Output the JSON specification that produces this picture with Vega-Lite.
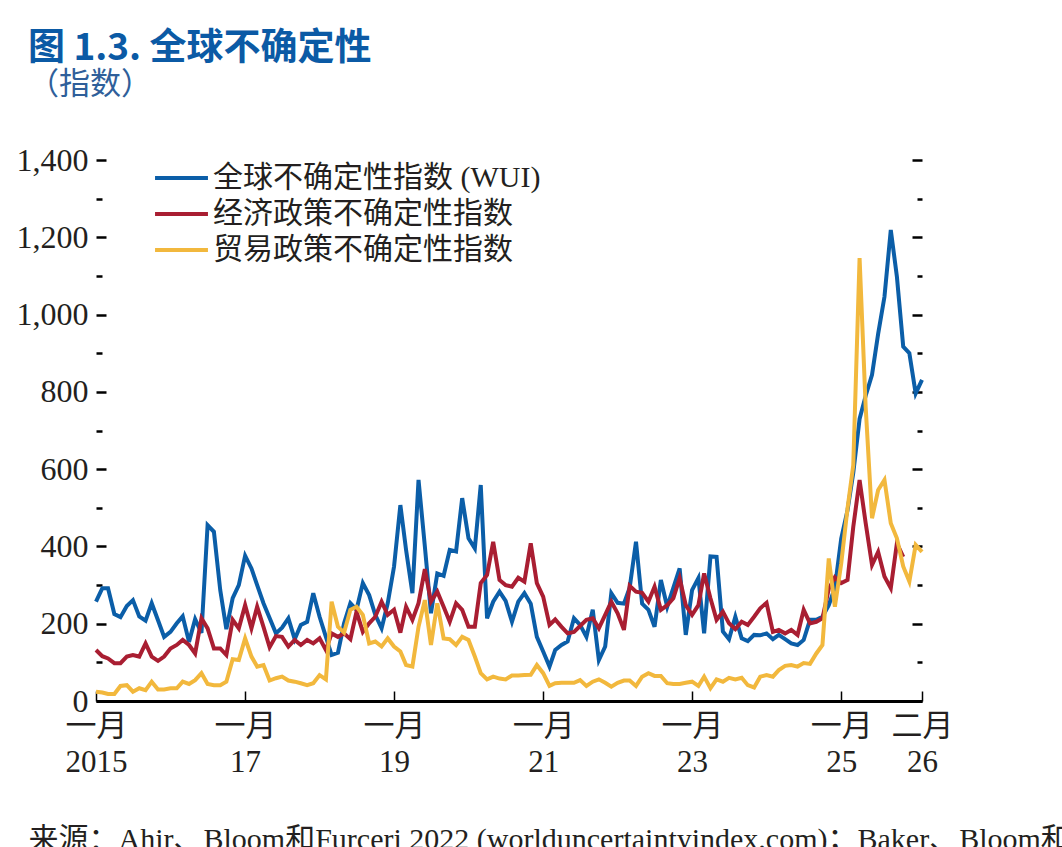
{
  "$schema": "https://vega.github.io/schema/vega-lite/v6.json",
  "width": 826,
  "height": 541,
  "autosize": {"type": "none"},
  "padding": {"left": 96, "top": 160, "right": 140, "bottom": 146},
  "background": "white",
  "title": {
    "text": "图 1.3. 全球不确定性",
    "subtitle": "（指数）",
    "anchor": "start",
    "frame": "group",
    "dx": -68,
    "font": "Noto Sans CJK SC",
    "fontSize": 37,
    "fontWeight": "bold",
    "color": "#0b5aa5",
    "subtitleFont": "Noto Sans CJK SC",
    "subtitleFontSize": 31,
    "subtitleFontWeight": "normal",
    "subtitleColor": "#2f5f9a",
    "subtitlePadding": 2,
    "offset": 43
  },
  "data": {
    "values": [
      {"date": "2015-01-01", "wui": 257, "epu": 132, "tpu": 24},
      {"date": "2015-02-01", "wui": 292, "epu": 116, "tpu": 22},
      {"date": "2015-03-01", "wui": 292, "epu": 110, "tpu": 18},
      {"date": "2015-04-01", "wui": 225, "epu": 98, "tpu": 18},
      {"date": "2015-05-01", "wui": 217, "epu": 98, "tpu": 39},
      {"date": "2015-06-01", "wui": 246, "epu": 115, "tpu": 41},
      {"date": "2015-07-01", "wui": 261, "epu": 119, "tpu": 24},
      {"date": "2015-08-01", "wui": 219, "epu": 115, "tpu": 33},
      {"date": "2015-09-01", "wui": 208, "epu": 149, "tpu": 28},
      {"date": "2015-10-01", "wui": 253, "epu": 115, "tpu": 50},
      {"date": "2015-11-01", "wui": 209, "epu": 104, "tpu": 30},
      {"date": "2015-12-01", "wui": 166, "epu": 115, "tpu": 30},
      {"date": "2016-01-01", "wui": 179, "epu": 136, "tpu": 33},
      {"date": "2016-02-01", "wui": 201, "epu": 145, "tpu": 33},
      {"date": "2016-03-01", "wui": 219, "epu": 158, "tpu": 50},
      {"date": "2016-04-01", "wui": 153, "epu": 145, "tpu": 44},
      {"date": "2016-05-01", "wui": 212, "epu": 123, "tpu": 54},
      {"date": "2016-06-01", "wui": 176, "epu": 214, "tpu": 72},
      {"date": "2016-07-01", "wui": 455, "epu": 188, "tpu": 44},
      {"date": "2016-08-01", "wui": 438, "epu": 136, "tpu": 41},
      {"date": "2016-09-01", "wui": 287, "epu": 136, "tpu": 41},
      {"date": "2016-10-01", "wui": 186, "epu": 119, "tpu": 50},
      {"date": "2016-11-01", "wui": 266, "epu": 210, "tpu": 108},
      {"date": "2016-12-01", "wui": 300, "epu": 188, "tpu": 106},
      {"date": "2017-01-01", "wui": 376, "epu": 248, "tpu": 162},
      {"date": "2017-02-01", "wui": 343, "epu": 188, "tpu": 115},
      {"date": "2017-03-01", "wui": 300, "epu": 244, "tpu": 89},
      {"date": "2017-04-01", "wui": 253, "epu": 192, "tpu": 93},
      {"date": "2017-05-01", "wui": 215, "epu": 139, "tpu": 53},
      {"date": "2017-06-01", "wui": 175, "epu": 168, "tpu": 59},
      {"date": "2017-07-01", "wui": 190, "epu": 166, "tpu": 63},
      {"date": "2017-08-01", "wui": 214, "epu": 141, "tpu": 53},
      {"date": "2017-09-01", "wui": 160, "epu": 158, "tpu": 50},
      {"date": "2017-10-01", "wui": 197, "epu": 145, "tpu": 46},
      {"date": "2017-11-01", "wui": 205, "epu": 158, "tpu": 41},
      {"date": "2017-12-01", "wui": 279, "epu": 149, "tpu": 46},
      {"date": "2018-01-01", "wui": 218, "epu": 162, "tpu": 67},
      {"date": "2018-02-01", "wui": 166, "epu": 132, "tpu": 56},
      {"date": "2018-03-01", "wui": 119, "epu": 175, "tpu": 257},
      {"date": "2018-04-01", "wui": 125, "epu": 166, "tpu": 192},
      {"date": "2018-05-01", "wui": 201, "epu": 175, "tpu": 177},
      {"date": "2018-06-01", "wui": 253, "epu": 160, "tpu": 236},
      {"date": "2018-07-01", "wui": 236, "epu": 231, "tpu": 244},
      {"date": "2018-08-01", "wui": 305, "epu": 179, "tpu": 223},
      {"date": "2018-09-01", "wui": 274, "epu": 201, "tpu": 149},
      {"date": "2018-10-01", "wui": 223, "epu": 218, "tpu": 154},
      {"date": "2018-11-01", "wui": 188, "epu": 257, "tpu": 141},
      {"date": "2018-12-01", "wui": 253, "epu": 223, "tpu": 162},
      {"date": "2019-01-01", "wui": 348, "epu": 236, "tpu": 141},
      {"date": "2019-02-01", "wui": 507, "epu": 177, "tpu": 128},
      {"date": "2019-03-01", "wui": 391, "epu": 244, "tpu": 93},
      {"date": "2019-04-01", "wui": 279, "epu": 210, "tpu": 89},
      {"date": "2019-05-01", "wui": 572, "epu": 253, "tpu": 192},
      {"date": "2019-06-01", "wui": 400, "epu": 341, "tpu": 261},
      {"date": "2019-07-01", "wui": 227, "epu": 257, "tpu": 145},
      {"date": "2019-08-01", "wui": 330, "epu": 283, "tpu": 253},
      {"date": "2019-09-01", "wui": 324, "epu": 244, "tpu": 162},
      {"date": "2019-10-01", "wui": 391, "epu": 205, "tpu": 160},
      {"date": "2019-11-01", "wui": 387, "epu": 253, "tpu": 145},
      {"date": "2019-12-01", "wui": 525, "epu": 236, "tpu": 166},
      {"date": "2020-01-01", "wui": 421, "epu": 192, "tpu": 158},
      {"date": "2020-02-01", "wui": 395, "epu": 192, "tpu": 115},
      {"date": "2020-03-01", "wui": 559, "epu": 305, "tpu": 72},
      {"date": "2020-04-01", "wui": 214, "epu": 326, "tpu": 56},
      {"date": "2020-05-01", "wui": 257, "epu": 412, "tpu": 63},
      {"date": "2020-06-01", "wui": 283, "epu": 313, "tpu": 58},
      {"date": "2020-07-01", "wui": 259, "epu": 300, "tpu": 56},
      {"date": "2020-08-01", "wui": 205, "epu": 296, "tpu": 66},
      {"date": "2020-09-01", "wui": 257, "epu": 319, "tpu": 66},
      {"date": "2020-10-01", "wui": 279, "epu": 309, "tpu": 67},
      {"date": "2020-11-01", "wui": 252, "epu": 408, "tpu": 68},
      {"date": "2020-12-01", "wui": 166, "epu": 305, "tpu": 93},
      {"date": "2021-01-01", "wui": 128, "epu": 270, "tpu": 72},
      {"date": "2021-02-01", "wui": 89, "epu": 197, "tpu": 39},
      {"date": "2021-03-01", "wui": 132, "epu": 211, "tpu": 46},
      {"date": "2021-04-01", "wui": 145, "epu": 192, "tpu": 47},
      {"date": "2021-05-01", "wui": 154, "epu": 175, "tpu": 47},
      {"date": "2021-06-01", "wui": 214, "epu": 179, "tpu": 47},
      {"date": "2021-07-01", "wui": 197, "epu": 194, "tpu": 54},
      {"date": "2021-08-01", "wui": 166, "epu": 210, "tpu": 39},
      {"date": "2021-09-01", "wui": 236, "epu": 214, "tpu": 50},
      {"date": "2021-10-01", "wui": 106, "epu": 188, "tpu": 56},
      {"date": "2021-11-01", "wui": 141, "epu": 223, "tpu": 47},
      {"date": "2021-12-01", "wui": 279, "epu": 257, "tpu": 37},
      {"date": "2022-01-01", "wui": 254, "epu": 227, "tpu": 47},
      {"date": "2022-02-01", "wui": 252, "epu": 184, "tpu": 53},
      {"date": "2022-03-01", "wui": 293, "epu": 298, "tpu": 53},
      {"date": "2022-04-01", "wui": 412, "epu": 283, "tpu": 39},
      {"date": "2022-05-01", "wui": 252, "epu": 280, "tpu": 63},
      {"date": "2022-06-01", "wui": 236, "epu": 257, "tpu": 72},
      {"date": "2022-07-01", "wui": 192, "epu": 296, "tpu": 65},
      {"date": "2022-08-01", "wui": 313, "epu": 236, "tpu": 65},
      {"date": "2022-09-01", "wui": 244, "epu": 248, "tpu": 46},
      {"date": "2022-10-01", "wui": 293, "epu": 266, "tpu": 44},
      {"date": "2022-11-01", "wui": 343, "epu": 318, "tpu": 44},
      {"date": "2022-12-01", "wui": 171, "epu": 248, "tpu": 47},
      {"date": "2023-01-01", "wui": 287, "epu": 223, "tpu": 50},
      {"date": "2023-02-01", "wui": 318, "epu": 248, "tpu": 39},
      {"date": "2023-03-01", "wui": 175, "epu": 330, "tpu": 63},
      {"date": "2023-04-01", "wui": 374, "epu": 266, "tpu": 33},
      {"date": "2023-05-01", "wui": 373, "epu": 210, "tpu": 56},
      {"date": "2023-06-01", "wui": 180, "epu": 231, "tpu": 50},
      {"date": "2023-07-01", "wui": 160, "epu": 201, "tpu": 60},
      {"date": "2023-08-01", "wui": 218, "epu": 186, "tpu": 56},
      {"date": "2023-09-01", "wui": 162, "epu": 205, "tpu": 60},
      {"date": "2023-10-01", "wui": 155, "epu": 197, "tpu": 41},
      {"date": "2023-11-01", "wui": 171, "epu": 218, "tpu": 35},
      {"date": "2023-12-01", "wui": 170, "epu": 240, "tpu": 63},
      {"date": "2024-01-01", "wui": 175, "epu": 254, "tpu": 67},
      {"date": "2024-02-01", "wui": 160, "epu": 179, "tpu": 63},
      {"date": "2024-03-01", "wui": 171, "epu": 184, "tpu": 80},
      {"date": "2024-04-01", "wui": 160, "epu": 175, "tpu": 91},
      {"date": "2024-05-01", "wui": 149, "epu": 184, "tpu": 93},
      {"date": "2024-06-01", "wui": 145, "epu": 171, "tpu": 89},
      {"date": "2024-07-01", "wui": 158, "epu": 236, "tpu": 98},
      {"date": "2024-08-01", "wui": 210, "epu": 201, "tpu": 96},
      {"date": "2024-09-01", "wui": 210, "epu": 205, "tpu": 123},
      {"date": "2024-10-01", "wui": 218, "epu": 214, "tpu": 145},
      {"date": "2024-11-01", "wui": 248, "epu": 290, "tpu": 369},
      {"date": "2024-12-01", "wui": 293, "epu": 320, "tpu": 244},
      {"date": "2025-01-01", "wui": 420, "epu": 305, "tpu": 356},
      {"date": "2025-02-01", "wui": 494, "epu": 313, "tpu": 499},
      {"date": "2025-03-01", "wui": 590, "epu": 450, "tpu": 610},
      {"date": "2025-04-01", "wui": 730, "epu": 572, "tpu": 1146},
      {"date": "2025-05-01", "wui": 790, "epu": 460, "tpu": 760},
      {"date": "2025-06-01", "wui": 844, "epu": 352, "tpu": 473},
      {"date": "2025-07-01", "wui": 950, "epu": 386, "tpu": 546},
      {"date": "2025-08-01", "wui": 1046, "epu": 322, "tpu": 572},
      {"date": "2025-09-01", "wui": 1219, "epu": 292, "tpu": 460},
      {"date": "2025-10-01", "wui": 1098, "epu": 408, "tpu": 421},
      {"date": "2025-11-01", "wui": 917, "epu": 373, "tpu": 348},
      {"date": "2025-12-01", "wui": 900, "epu": null, "tpu": 309},
      {"date": "2026-01-01", "wui": 796, "epu": null, "tpu": 404},
      {"date": "2026-02-01", "wui": 831, "epu": null, "tpu": 386}
    ]
  },
  "encoding": {
    "x": {
      "field": "date",
      "type": "temporal",
      "scale": {
        "type": "utc",
        "domain": [
          {"year": 2015, "month": 1, "date": 1, "utc": true},
          {"year": 2026, "month": 2, "date": 1, "utc": true}
        ]
      },
      "axis": {
        "values": [
          {"year": 2015, "month": 1, "date": 1, "utc": true},
          {"year": 2017, "month": 1, "date": 1, "utc": true},
          {"year": 2019, "month": 1, "date": 1, "utc": true},
          {"year": 2021, "month": 1, "date": 1, "utc": true},
          {"year": 2023, "month": 1, "date": 1, "utc": true},
          {"year": 2025, "month": 1, "date": 1, "utc": true},
          {"year": 2026, "month": 2, "date": 1, "utc": true}
        ],
        "labelExpr": "[utcmonth(datum.value) === 0 ? '一月' : '二月', utcyear(datum.value) === 2015 ? '2015' : slice(toString(utcyear(datum.value)), 2)]",
        "labelFont": "'Liberation Serif', 'Noto Sans CJK SC'",
        "labelFontSize": 31,
        "labelColor": "#231f20",
        "labelLineHeight": 36,
        "labelPadding": 20,
        "labelFlush": false,
        "labelOverlap": false,
        "labelBound": false,
        "tickSize": -10,
        "tickWidth": 1.5,
        "tickColor": "#000000",
        "domainWidth": 3,
        "domainColor": "#000000",
        "grid": false,
        "title": "来源：Ahir、Bloom和Furceri 2022 (worlduncertaintyindex.com)；Baker、Bloom和Davis 2016 (policyuncertainty.com)",
        "titleFont": "'Liberation Serif', 'Noto Sans CJK SC'",
        "titleFontSize": 30,
        "titleFontWeight": "normal",
        "titleColor": "#231f20",
        "titleAnchor": "start",
        "titleAlign": "left",
        "titleBaseline": "alphabetic",
        "titleX": -68,
        "titleY": 147
      }
    }
  },
  "layer": [
    {
      "mark": {"type": "line", "strokeWidth": 4, "strokeJoin": "miter", "clip": false},
      "encoding": {
        "y": {
          "field": "wui",
          "type": "quantitative",
          "scale": {"domain": [0, 1400], "nice": false},
          "axis": {
            "orient": "left",
            "values": [0, 100, 200, 300, 400, 500, 600, 700, 800, 900, 1000, 1100, 1200, 1300, 1400],
            "labelExpr": "datum.value % 200 === 0 ? format(datum.value, ',') : ''",
            "labelFont": "'Liberation Serif', 'Noto Sans CJK SC'",
            "labelFontSize": 32,
            "labelColor": "#231f20",
            "labelPadding": 18,
            "tickSize": {"condition": {"test": "datum.value % 200 === 0", "value": -10}, "value": -6},
            "tickWidth": 2.5,
            "tickColor": "#000000",
            "domain": false,
            "grid": false,
            "title": null
          }
        },
        "color": {
          "datum": "全球不确定性指数 (WUI)",
          "type": "nominal",
          "scale": {
            "domain": ["全球不确定性指数 (WUI)", "经济政策不确定性指数", "贸易政策不确定性指数"],
            "range": ["#0b5ea8", "#a91e32", "#f2b83d"]
          },
          "legend": {
            "orient": "none",
            "legendX": 57,
            "legendY": 0,
            "direction": "vertical",
            "title": null,
            "symbolType": "stroke",
            "symbolSize": 2800,
            "symbolStrokeWidth": 4,
            "labelFont": "'Liberation Serif', 'Noto Sans CJK SC'",
            "labelFontSize": 30,
            "labelColor": "#231f20",
            "labelOffset": 3,
            "labelLimit": 600,
            "clipHeight": 36,
            "rowPadding": 0
          }
        }
      }
    },
    {
      "mark": {"type": "line", "strokeWidth": 4, "strokeJoin": "miter", "clip": false},
      "encoding": {
        "y": {"field": "epu", "type": "quantitative", "axis": null},
        "color": {"datum": "经济政策不确定性指数", "type": "nominal"}
      }
    },
    {
      "mark": {"type": "line", "strokeWidth": 4, "strokeJoin": "miter", "clip": false},
      "encoding": {
        "y": {
          "field": "tpu",
          "type": "quantitative",
          "axis": {
            "orient": "right",
            "values": [0, 100, 200, 300, 400, 500, 600, 700, 800, 900, 1000, 1100, 1200, 1300, 1400],
            "labels": false,
            "tickSize": {"condition": {"test": "datum.value % 200 === 0", "value": -10}, "value": -5},
            "tickWidth": 2.5,
            "tickColor": "#000000",
            "domain": false,
            "grid": false,
            "title": null
          }
        },
        "color": {"datum": "贸易政策不确定性指数", "type": "nominal"}
      }
    }
  ],
  "resolve": {"axis": {"y": "independent"}},
  "config": {
    "view": {"stroke": null},
    "font": "'Liberation Serif', 'Noto Sans CJK SC'"
  }
}
